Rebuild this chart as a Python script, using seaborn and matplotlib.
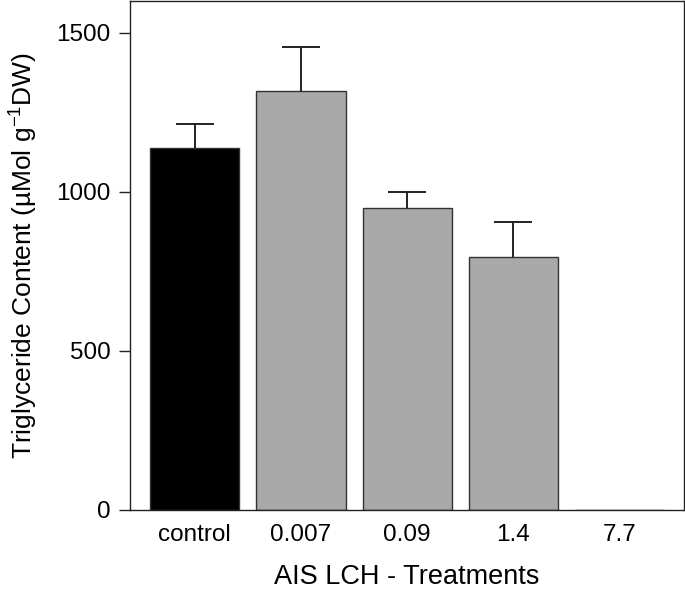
import numpy as np
import pandas as pd
import matplotlib
matplotlib.use("Agg")
import matplotlib.pyplot as plt
import seaborn as sns

# valori
treatments = ["control", "0.007", "0.09", "1.4", "7.7"]
triglyceride = [1137, 1319, 951, 795, 0]
sem_upper = [78, 136, 48, 110, np.nan]
bar_colors = ["#000000", "#a9a9a9", "#a9a9a9", "#a9a9a9", "#a9a9a9"]

sns.set_style("white")
plt.rcParams["font.family"] = ["Liberation Sans", "DejaVu Sans"]
plt.rcParams["mathtext.fontset"] = "custom"
plt.rcParams["mathtext.rm"] = "Liberation Sans"
plt.rcParams["mathtext.it"] = "Liberation Sans"
plt.rcParams["text.color"] = "black"
plt.rcParams["axes.labelcolor"] = "black"
plt.rcParams["xtick.color"] = "black"
plt.rcParams["ytick.color"] = "black"

df = pd.DataFrame({"treatment": treatments, "tg": triglyceride})

fig = plt.figure(figsize=(6.85, 5.93), dpi=100)
ax = fig.add_axes([0.19, 0.14, 0.8085, 0.858])

sns.barplot(data=df, x="treatment", y="tg", hue="treatment",
            palette=bar_colors, legend=False, width=0.84,
            edgecolor="#333333", linewidth=1.0, ax=ax)

# solo barra d'errore superiore
xpos = np.arange(len(treatments))
lower = np.zeros(len(treatments))
eb = ax.errorbar(xpos, triglyceride, yerr=[lower, sem_upper], fmt="none",
                 ecolor="#222222", elinewidth=1.4, capsize=13.5, capthick=1.4,
                 zorder=1)
eb[1][0].remove()  # tolgo il cap inferiore

ax.set_xlim(-0.61, 4.61)
ax.set_ylim(0, 1600)
ax.set_yticks([0, 500, 1000, 1500])

for side in ["top", "right", "left", "bottom"]:
    ax.spines[side].set_visible(True)
    ax.spines[side].set_color("#222222")
    ax.spines[side].set_linewidth(1.0)

ax.tick_params(axis="y", which="major", direction="out", length=8, width=1,
               color="#222222", labelsize=17.5, pad=6, left=True)
ax.tick_params(axis="x", length=0, labelsize=17.5, pad=10)

ax.set_xlabel("AIS LCH - Treatments", fontsize=19.5, labelpad=13)
ax.set_ylabel("Triglyceride Content (µMol g$^{-1}$DW)", fontsize=19, labelpad=12)

fig.savefig("out.png", dpi=100)
